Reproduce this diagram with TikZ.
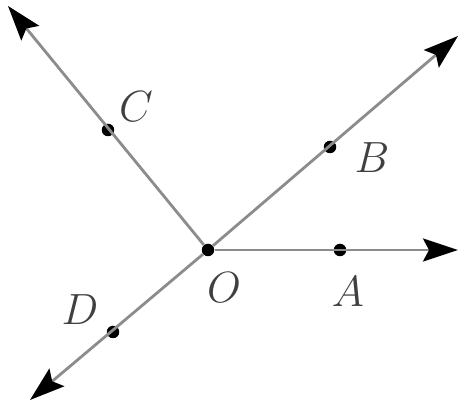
\documentclass[tikz,border=0pt]{standalone}
\usepackage{tikz}
\usetikzlibrary{positioning, arrows.meta}
\tikzset{
  raypath/.style  = {draw=black!45, line width=1.6pt,
                     -{Stealth[length=0.7cm, width=0.46cm, inset=0.12cm, color=black]}},
  ptdot/.style    = {circle, fill=black, inner sep=0pt, minimum size=0.25cm},
  ptlabel/.style  = {text=black!75, inner sep=0pt,
                     font=\fontsize{32}{36}\selectfont},
}
\begin{document}
\begin{tikzpicture}[x=0.02cm, y=-0.02cm]
    \useasboundingbox (0,0) rectangle (460,404);
    % centre and far ends of the rays
    \node[ptdot] (O) at (208,250) {};
    \coordinate (endA) at (458,250);
    \coordinate (endB) at (458,36);
    \coordinate (endC) at (8,6);
    \coordinate (endD) at (30,400);
    % points on the rays
    \node[ptdot] (A) at (340,250) {};
    \node[ptdot] (B) at (330,147) {};
    \node[ptdot] (C) at (108,130) {};
    \node[ptdot] (D) at (113,332) {};
    \draw[raypath] (O) -- (endA);
    \draw[raypath] (O) -- (endB);
    \draw[raypath] (O) -- (endC);
    \draw[raypath] (O) -- (endD);
    % Labels
    \node[ptlabel] (labO) at (224,288) {$O$};
    \node[ptlabel] (labA) at (348,292) {$A$};
    \node[ptlabel] (labB) at (372,158) {$B$};
    \node[ptlabel] (labC) at (136,107) {$C$};
    \node[ptlabel] (labD) at (80,310) {$D$};
\end{tikzpicture}
\end{document}
